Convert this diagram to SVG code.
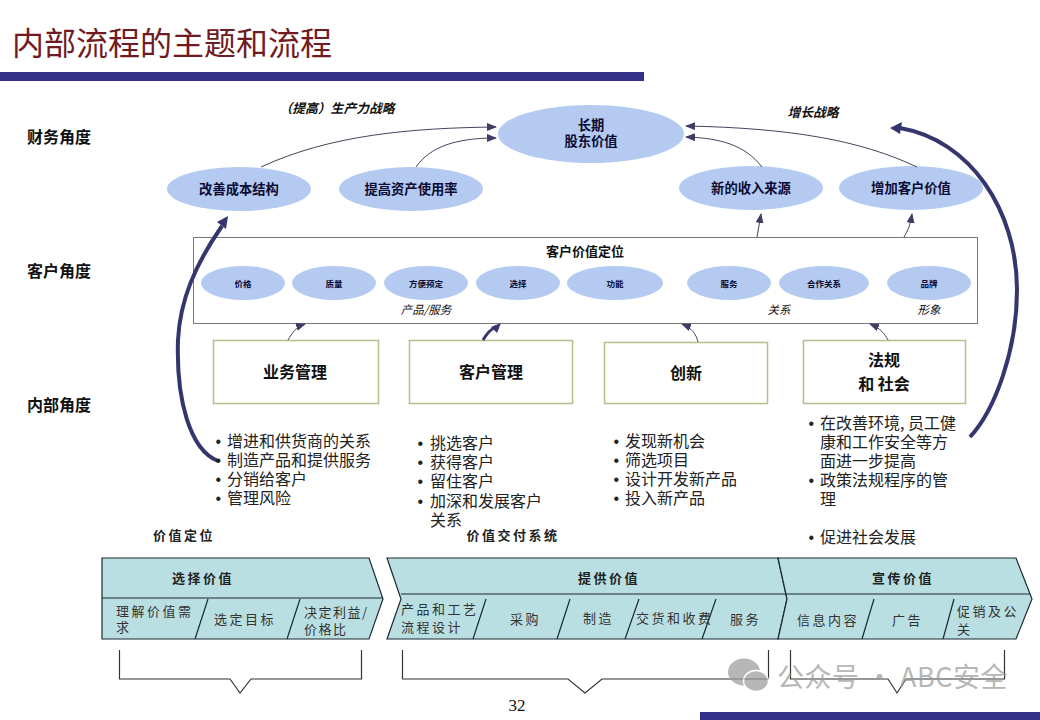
<svg xmlns="http://www.w3.org/2000/svg" width="1040" height="720" viewBox="0 0 1040 720">
<defs>
<marker id="a" markerUnits="userSpaceOnUse" markerWidth="12" markerHeight="10" refX="9" refY="4" orient="auto"><path d="M0 0L10 4L0 8Z" fill="#3d3d66"/></marker>
</defs>
<style>
text{font-family:"Noto Sans CJK SC","Liberation Sans",sans-serif;fill:#111}
.e{fill:#b4caf1}
.b{font-weight:700}
.m{text-anchor:middle}
.t{font-family:"Liberation Serif","Noto Sans CJK SC",serif}
.lb{font-size:16px;font-weight:700}
.el{font-size:13.300px;font-weight:700;text-anchor:middle;fill:#0a0a33}
.sl{font-size:8.500px;font-weight:700;text-anchor:middle;fill:#0a0a33}
.i{font-size:11.500px;font-style:italic;text-anchor:middle}
.ib{font-size:12.800px;font-style:italic;font-weight:700;text-anchor:middle}
.box{fill:#fff;stroke:#b8bd8c;stroke-width:1.5}
.bl{font-size:16px;font-weight:700;text-anchor:middle}
.li{font-size:16px;fill:#222}
.d{font-family:"Liberation Sans",sans-serif}
.ch{fill:#b9dfe2;stroke:#1a2a30;stroke-width:1.2}
.cl{stroke:#1a2a30;stroke-width:1.2;fill:none}
.vt{font-size:13px;font-weight:700;text-anchor:middle;fill:#222;letter-spacing:2.500px}
.vs{font-size:13px;letter-spacing:2.500px;fill:#333}
.br{fill:none;stroke:#333;stroke-width:1.2}
.c{fill:none;stroke:#44445c;stroke-width:1;marker-end:url(#a)}
.h{fill:none;stroke:#36366f;stroke-width:4}
</style>
<rect width="1040" height="720" fill="#fff"/>
<text x="12" y="55" font-size="32" style="fill:#701a22">内部流程的主题和流程</text>
<rect x="0" y="72" width="644" height="9" fill="#35308a"/>
<rect x="700" y="712" width="340" height="8" fill="#35308a"/>
<text x="27" y="143" class="lb">财务角度</text>
<text x="27" y="277" class="lb">客户角度</text>
<text x="27" y="411" class="lb">内部角度</text>
<text x="337" y="113" class="ib">（提高）生产力战略</text>
<text x="813" y="117" class="ib">增长战略</text>

<g id="n-value"><ellipse class="e" cx="591" cy="134" rx="93" ry="29"/><text class="el"><tspan x="591" y="130">长期</tspan><tspan x="591" y="146">股东价值</tspan></text></g>
<g id="n-cost"><ellipse class="e" cx="239" cy="189" rx="72" ry="22"/><text x="239" y="194" class="el">改善成本结构</text></g>
<g id="n-asset"><ellipse class="e" cx="411" cy="189" rx="72" ry="22"/><text x="411" y="194" class="el">提高资产使用率</text></g>
<g id="n-income"><ellipse class="e" cx="751" cy="188" rx="72" ry="22"/><text x="751" y="193" class="el">新的收入来源</text></g>
<g id="n-cust"><ellipse class="e" cx="911" cy="188" rx="72" ry="22"/><text x="911" y="193" class="el">增加客户价值</text></g>

<g id="n-prop">
<rect x="193.500" y="237.500" width="784" height="86" fill="#fff" stroke="#777"/>
<text x="585" y="256" class="m b" font-size="13">客户价值定位</text>
<ellipse class="e" cx="243" cy="283" rx="42" ry="17"/><text x="243" y="287" class="sl">价格</text>
<ellipse class="e" cx="334" cy="283" rx="42" ry="17"/><text x="334" y="287" class="sl">质量</text>
<ellipse class="e" cx="426" cy="283" rx="42" ry="17"/><text x="426" y="287" class="sl">方便预定</text>
<ellipse class="e" cx="518" cy="283" rx="42" ry="17"/><text x="518" y="287" class="sl">选择</text>
<ellipse class="e" cx="615" cy="283" rx="48" ry="17"/><text x="615" y="287" class="sl">功能</text>
<ellipse class="e" cx="729" cy="283" rx="42" ry="17"/><text x="729" y="287" class="sl">服务</text>
<ellipse class="e" cx="824" cy="283" rx="45" ry="17"/><text x="824" y="287" class="sl">合作关系</text>
<ellipse class="e" cx="929" cy="283" rx="42" ry="17"/><text x="929" y="287" class="sl">品牌</text>
<text x="426" y="314" class="i">产品/服务</text>
<text x="779" y="314" class="i">关系</text>
<text x="929" y="314" class="i">形象</text>
</g>

<g id="n-ops"><rect class="box" x="213.500" y="340.500" width="165" height="63"/><text x="295" y="378" class="bl">业务管理</text></g>
<g id="n-crm"><rect class="box" x="409.500" y="340.500" width="163" height="63"/><text x="491" y="378" class="bl">客户管理</text></g>
<g id="n-inn"><rect class="box" x="604.500" y="342.500" width="163" height="61"/><text x="686" y="379" class="bl">创新</text></g>
<g id="n-reg"><rect class="box" x="803.500" y="340.500" width="162" height="63"/><text class="bl"><tspan x="884" y="366">法规</tspan><tspan x="884" y="390">和 社会</tspan></text></g>

<g id="connectors">
<path class="c" d="M261 167C330 135 410 128 496 127"/>
<path class="c" d="M416 167C430 147 455 138 496 138"/>
<path class="c" d="M762 167C745 145 720 138 686 137"/>
<path class="c" d="M917 167C860 140 790 128 686 126"/>
<path class="c" d="M757 237L761 214"/>
<path class="c" d="M904 237C908 230 910 226 912 214"/>
<path class="c" d="M288 340C292 333 296 327 305 324"/>
<path class="c" d="M698 342C696 334 692 328 682 324"/>
<path class="c" d="M888 340C885 334 880 328 870 324"/>
<path d="M483 340C487 333 491 329 497 326" fill="none" stroke="#36366f" stroke-width="3"/>
<path d="M501 323L491 327L497 333Z" fill="#36366f"/>
<path class="h" d="M218 461C190 450 176 400 178 340C180 300 195 265 222 226"/>
<path d="M228 216L217 222L226 229Z" fill="#36366f"/>
<path class="h" d="M970 437C995 410 1017 350 1017 290C1017 210 970 140 900 128"/>
<path d="M890 128L902 122L900 134Z" fill="#36366f"/>
</g>

<g id="list-ops"><text class="li"><tspan class="d" x="215.500" y="447">•</tspan><tspan x="227" y="447">增进和供货商的关系</tspan><tspan class="d" x="215.500" y="466">•</tspan><tspan x="227" y="466">制造产品和提供服务</tspan><tspan class="d" x="215.500" y="485">•</tspan><tspan x="227" y="485">分销给客户</tspan><tspan class="d" x="215.500" y="504">•</tspan><tspan x="227" y="504">管理风险</tspan></text></g>
<g id="list-crm"><text class="li"><tspan class="d" x="417.500" y="449">•</tspan><tspan x="430" y="449">挑选客户</tspan><tspan class="d" x="417.500" y="468">•</tspan><tspan x="430" y="468">获得客户</tspan><tspan class="d" x="417.500" y="487">•</tspan><tspan x="430" y="487">留住客户</tspan><tspan class="d" x="417.500" y="507">•</tspan><tspan x="430" y="507">加深和发展客户</tspan><tspan x="430" y="526">关系</tspan></text></g>
<g id="list-inn"><text class="li"><tspan class="d" x="613.500" y="447">•</tspan><tspan x="625" y="447">发现新机会</tspan><tspan class="d" x="613.500" y="466">•</tspan><tspan x="625" y="466">筛选项目</tspan><tspan class="d" x="613.500" y="485">•</tspan><tspan x="625" y="485">设计开发新产品</tspan><tspan class="d" x="613.500" y="504">•</tspan><tspan x="625" y="504">投入新产品</tspan></text></g>
<g id="list-reg"><text class="li"><tspan class="d" x="808.500" y="429">•</tspan><tspan x="820" y="429">在改善环境, 员工健</tspan><tspan x="820" y="448">康和工作安全等方</tspan><tspan x="820" y="467">面进一步提高</tspan><tspan class="d" x="808.500" y="486">•</tspan><tspan x="820" y="486">政策法规程序的管</tspan><tspan x="820" y="505">理</tspan><tspan class="d" x="808.500" y="543">•</tspan><tspan x="820" y="543">促进社会发展</tspan></text></g>

<text x="184" y="540" class="vt">价值定位</text>
<text x="513" y="540" class="vt">价值交付系统</text>

<g id="n-select">
<path class="ch" d="M102 558H369L383 599L369 639H102Z"/>
<path class="cl" d="M102 598H383M208 599L195 639M300 599L287 639"/>
<text x="203" y="583" class="vt">选择价值</text>
<text class="vs"><tspan x="116" y="616">理解价值需</tspan><tspan x="116" y="632">求</tspan></text>
<text x="214" y="624" class="vs">选定目标</text>
<text class="vs" style="letter-spacing:1.500px"><tspan x="304" y="617">决定利益/</tspan><tspan x="304" y="634">价格比</tspan></text>
</g>
<g id="n-deliver">
<path class="ch" d="M387 558H778L787 599L778 639H387L401 599Z"/>
<path class="cl" d="M401 594H786M486 599L473 639M570 599L557 639M639 599L625 639M716 599L702 639"/>
<text x="609" y="583" class="vt">提供价值</text>
<text class="vs"><tspan x="401" y="614">产品和工艺</tspan><tspan x="401" y="632">流程设计</tspan></text>
<text x="510" y="624" class="vs">采购</text>
<text x="583" y="623" class="vs">制造</text>
<text x="636" y="623" class="vs">交货和收费</text>
<text x="730" y="624" class="vs">服务</text>
</g>
<g id="n-promo">
<path class="ch" d="M778 558H1016L1032 599L1016 639H778L787 599Z"/>
<path class="cl" d="M786 594H1030M874 599L862 639M954 599L943 639"/>
<text x="903" y="583" class="vt">宣传价值</text>
<text x="797" y="625" class="vs">信息内容</text>
<text x="892" y="625" class="vs">广告</text>
<text class="vs"><tspan x="957" y="616">促销及公</tspan><tspan x="957" y="634">关</tspan></text>
</g>

<g id="brackets">
<path class="br" d="M119.500 650V679H230L240 693L251 679H361.500V650"/>
<path class="br" d="M402.500 650V679H568L585 693L602 679H768.500V650"/>
<path class="br" d="M790.500 650V679H888L897 693L906 679H1004.500V650"/>
</g>
<text x="517" y="711" class="m t" font-size="17">32</text>
<g opacity=".7"><ellipse cx="744" cy="672" rx="16" ry="13.500" fill="#9a9a9a"/><ellipse cx="756" cy="681" rx="12.500" ry="10.500" fill="#9a9a9a" stroke="#fff" stroke-width="1.500"/>
<text x="777" y="687" font-size="27" style="fill:#999;letter-spacing:.5px">公众号 · ABC安全</text></g>
</svg>
